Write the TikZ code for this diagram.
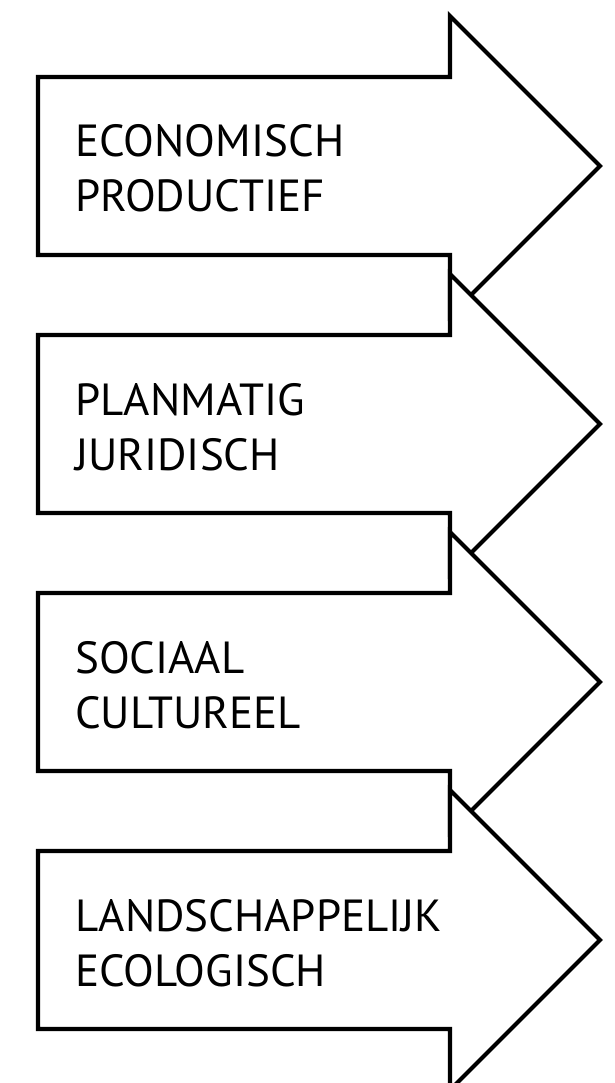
\documentclass[tikz,border=0pt]{standalone}
\usepackage{fontspec}
\setmainfont{PT Sans}
\begin{document}
\begin{tikzpicture}[x=1pt,y=-1pt,
  arrowshape/.style={draw=black,fill=white,line width=4.2pt,line join=miter},
  label/.style={anchor=base west,inner sep=0pt,font=\fontsize{45}{45}\selectfont}]
\useasboundingbox (0,0) rectangle (615,1083);
\foreach \c/\la/\lb [count=\i] in {166/ECONOMISCH/PRODUCTIEF,424/PLANMATIG/JURIDISCH,682/SOCIAAL/CULTUREEL,940/LANDSCHAPPELIJK/ECOLOGISCH}{
  \draw[arrowshape] (38,\c-89) -- (450,\c-89) -- (450,\c-150) -- (600,\c)
     -- (450,\c+150) -- (450,\c+89) -- (38,\c+89) -- cycle;
  \node[label] (t\i a) at (75,\c-9) {\la};
  \node[label] (t\i b) at (75,\c+46) {\lb};
}
\end{tikzpicture}
\end{document}
